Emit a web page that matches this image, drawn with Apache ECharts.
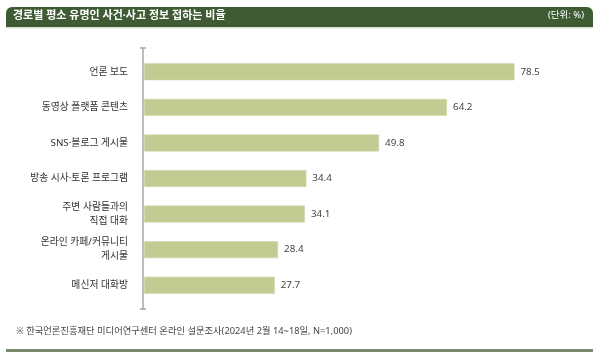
<!DOCTYPE html>
<html>
<head>
<meta charset="utf-8">
<script src="https://cdn.jsdelivr.net/npm/echarts@6/dist/echarts.min.js"></script>
<style>
html,body{margin:0;padding:0;background:#fff;}
#c{width:600px;height:358px;}
</style>
</head>
<body>
<div id="c"></div>
<script>
const titleText = '경로별 평소 유명인 사건·사고 정보 접하는 비율';
const unitText = '(단위: %)';
const sourceText = '※ 한국언론진흥재단 미디어연구센터 온라인 설문조사(2024년 2월 14~18일, N=1,000)';
const categories = ['언론 보도', '동영상 플랫폼 콘텐츠', 'SNS·블로그 게시물', '방송 시사·토론 프로그램', '주변 사람들과의\n직접 대화', '온라인 카페/커뮤니티\n게시물', '메신저 대화방'];
const values = [78.5, 64.2, 49.8, 34.4, 34.1, 28.4, 27.7];

const FONT = '"Noto Sans", "Noto Sans CJK KR", sans-serif';
const chart = echarts.init(document.getElementById('c'), null, {renderer: 'canvas'});
chart.setOption({
  animation: false,
  backgroundColor: '#fff',
  textStyle: {fontFamily: FONT},
  grid: [
    {left: 144, top: 54, height: 249, width: 472, outerBoundsMode: 'none', containLabel: false},
    {left: 143, top: 48, height: 261, width: 1, outerBoundsMode: 'none', containLabel: false}
  ],
  xAxis: [
    {type: 'value', gridIndex: 0, min: 0, max: 100, show: false},
    {type: 'value', gridIndex: 1, min: 0, max: 1, show: false}
  ],
  yAxis: [
    {
      type: 'category', gridIndex: 0, inverse: true, data: categories,
      axisLine: {show: false}, axisTick: {show: false}, splitLine: {show: false},
      axisLabel: {margin: 16, fontSize: 9.8, color: '#333', lineHeight: 14, fontFamily: FONT}
    },
    {
      type: 'value', gridIndex: 1, min: 0, max: 1, interval: 1, position: 'left',
      axisLine: {show: true, lineStyle: {color: '#a8a8a8', width: 1.5}},
      axisTick: {show: true, inside: false, length: 3, lineStyle: {color: '#a8a8a8', width: 1.5}},
      axisLabel: {show: false}, splitLine: {show: false}
    },
    {
      type: 'value', gridIndex: 1, min: 0, max: 1, interval: 1, position: 'left',
      axisLine: {show: false},
      axisTick: {show: true, inside: true, length: 3, lineStyle: {color: '#a8a8a8', width: 1.5}},
      axisLabel: {show: false}, splitLine: {show: false}
    }
  ],
  series: [{
    type: 'bar',
    xAxisIndex: 0, yAxisIndex: 0,
    data: values,
    barWidth: 17,
    itemStyle: {color: '#c3ca92', borderColor: '#d4dab0', borderWidth: 0.6},
    label: {
      show: true, position: 'right', distance: 6,
      fontSize: 9.8, color: '#444', fontFamily: FONT,
      formatter: p => p.value.toFixed(1)
    }
  }],
  graphic: [
    {type: 'rect', shape: {x: 6, y: 7, width: 587, height: 20, r: [6, 6, 0, 0]}, style: {fill: '#3f5b34'}},
    {type: 'rect', shape: {x: 6, y: 27, width: 587, height: 1.5}, style: {fill: '#d9e2cf'}},
    {type: 'text', left: 13, top: 10, style: {text: titleText, fill: '#fff', font: 'bold 11px ' + FONT}},
    {type: 'text', right: 16, top: 11, style: {text: unitText, fill: '#fff', font: '9.5px ' + FONT}},
    {type: 'text', left: 16, top: 327, style: {text: sourceText, fill: '#444', font: '9.3px ' + FONT}},
    {type: 'rect', shape: {x: 6, y: 349, width: 587, height: 3}, style: {fill: '#7a8a6b'}}
  ]
});
</script>
</body>
</html>
